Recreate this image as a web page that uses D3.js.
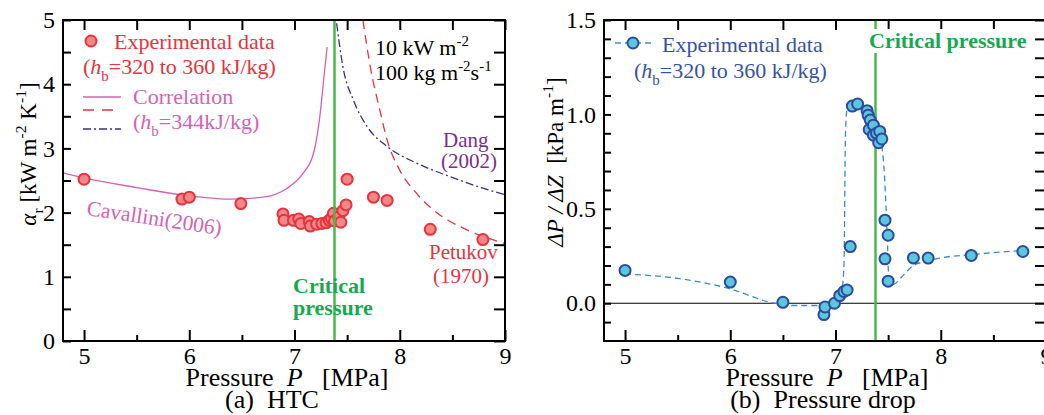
<!DOCTYPE html>
<html>
<head>
<meta charset="utf-8">
<title>HTC and pressure drop</title>
<script src="https://d3js.org/d3.v7.min.js"></script>
<style>
  body { margin: 0; background: #fff; }
</style>
</head>
<body>
<script>
// ---- data ----
// (a) HTC experimental points
const htcP = [5.0, 5.93, 6.0, 6.49, 6.89, 6.90, 6.99, 7.04, 7.06, 7.14, 7.15, 7.21, 7.26, 7.30,
              7.33, 7.35, 7.37, 7.38, 7.42, 7.44, 7.46, 7.49, 7.50, 7.75, 7.88, 8.29, 8.79];
const htcA = [2.52, 2.21, 2.24, 2.14, 1.98, 1.88, 1.88, 1.90, 1.83, 1.86, 1.79, 1.82, 1.83, 1.84,
              1.88, 1.91, 1.99, 1.87, 1.93, 1.85, 2.03, 2.12, 2.52, 2.24, 2.19, 1.74, 1.58];
// correlations
const cavP = [4.8, 5.0, 5.5, 6.0, 6.4, 6.7, 6.93, 7.08, 7.18, 7.24, 7.28, 7.31];
const cavA = [2.62, 2.54, 2.39, 2.26, 2.21, 2.24, 2.38, 2.61, 2.92, 3.49, 4.12, 4.58];
const dangP = [7.40, 7.46, 7.56, 7.69, 7.88, 8.16, 8.48, 8.79, 9.0];
const dangA = [4.95, 4.27, 3.75, 3.34, 3.03, 2.77, 2.56, 2.38, 2.28];
const petP = [7.65, 7.72, 7.81, 7.88, 8.0, 8.16, 8.32, 8.64, 9.0];
const petA = [5.0, 4.27, 3.6, 3.13, 2.66, 2.30, 2.04, 1.73, 1.52];

// (b) pressure drop experimental points
const dpP = [5.0, 6.0, 6.5, 6.89, 6.90, 6.99, 7.04, 7.08, 7.11, 7.14, 7.16, 7.21, 7.30, 7.31,
             7.33, 7.32, 7.36, 7.36, 7.39, 7.42, 7.41, 7.44, 7.47, 7.50, 7.47, 7.50, 7.74, 7.88, 8.29, 8.78];
const dpV = [0.174, 0.112, 0.005, -0.06, -0.02, 0.0, 0.04, 0.062, 0.07, 0.30, 1.044, 1.055, 1.02, 0.996,
             0.97, 0.92, 0.943, 0.89, 0.90, 0.91, 0.85, 0.87, 0.44, 0.36, 0.235, 0.117, 0.24, 0.239, 0.253, 0.274];
// dashed guide curve through the data
const dpLineP = [5.0, 5.52, 6.0, 6.38, 6.57, 6.85, 7.01, 7.06, 7.08, 7.095, 7.11, 7.16, 7.21, 7.30, 7.38,
                 7.43, 7.46, 7.48, 7.495, 7.505, 7.55, 7.63, 7.74, 7.85, 8.0, 8.3, 8.8];
const dpLineV = [0.155, 0.13, 0.076, 0.005, -0.012, -0.012, 0.032, 0.07, 0.2, 0.9, 1.03, 1.055, 1.055, 1.0, 0.93,
                 0.86, 0.72, 0.51, 0.30, 0.14, 0.10, 0.14, 0.20, 0.22, 0.24, 0.258, 0.28];

const critP = 7.38;
const xTicks = [5, 6, 7, 8, 9];
const xMinor = [5.5, 6.5, 7.5, 8.5];
const htcTicks = [0, 1, 2, 3, 4, 5];
const htcMinor = [0.5, 1.5, 2.5, 3.5, 4.5];
const dpTicks = [0.0, 0.5, 1.0, 1.5];
const dpMinor = [-0.1, 0.1, 0.2, 0.3, 0.4, 0.6, 0.7, 0.8, 0.9, 1.1, 1.2, 1.3, 1.4];

const W = 1044, H = 415;
const serif = "'Liberation Serif', 'Times New Roman', serif";
const svg = d3.select("body").append("svg").attr("width", W).attr("height", H);

const red = "#e8323c", magenta = "#d462b4", navy = "#3a2f8f", purple = "#7c2e8e",
      green = "#4cb848", greenText = "#1aa84e", blueText = "#3452a6";
const R = 5.5;

// rich text helper: parts = [{t, i, s:'sub'|'sup'}]
function rich(sel, fs, parts) {
  let cur = 0;
  parts.forEach(p => {
    const off = p.s === "sub" ? fs * 0.3 : p.s === "sup" ? -fs * 0.42 : 0;
    const ts = sel.append("tspan").text(p.t).attr("dy", off - cur);
    cur = off;
    if (p.s) ts.attr("font-size", fs * 0.68);
    if (p.i) ts.style("font-style", "italic");
  });
  return sel;
}

function label(x, y, fs, color, parts, extra) {
  const t = svg.append("text").attr("x", x).attr("y", y).attr("font-size", fs).attr("fill", color);
  if (extra) extra(t);
  return rich(t, fs, parts);
}

// generic panel frame + ticks
function panel(x, y, yMajor, yMinor, yFmt, yTickL, yTickR) {
  const [x0, x1] = x.range(), [y1, y0] = y.range();
  const g = svg.append("g");
  const tickStyle = s => s.selectAll(".domain").remove();
  g.append("g").attr("transform", `translate(0,${y1})`)
    .call(d3.axisBottom(x).tickValues(xTicks).tickSize(-11).tickPadding(6).tickFormat(d3.format("d")))
    .call(tickStyle);
  g.append("g").attr("transform", `translate(0,${y1})`)
    .call(d3.axisBottom(x).tickValues(xMinor).tickSize(-6).tickFormat("")).call(tickStyle);
  g.append("g").attr("transform", `translate(0,${y0})`)
    .call(d3.axisTop(x).tickValues(xTicks.concat(xMinor)).tickSize(-10).tickFormat("")).call(tickStyle);
  g.append("g").attr("transform", `translate(${x0},0)`)
    .call(d3.axisLeft(y).tickValues(yMajor).tickSize(-yTickL).tickPadding(8).tickFormat(yFmt)).call(tickStyle);
  g.append("g").attr("transform", `translate(${x0},0)`)
    .call(d3.axisLeft(y).tickValues(yMinor).tickSize(-yTickL).tickFormat("")).call(tickStyle);
  g.append("g").attr("transform", `translate(${x1},0)`)
    .call(d3.axisRight(y).tickValues(yMajor.concat(yMinor)).tickSize(-yTickR).tickFormat("")).call(tickStyle);
  g.selectAll(".tick line").attr("stroke", "#000").attr("stroke-width", 2);
  g.selectAll(".tick text").attr("font-size", 24).attr("fill", "#000");
  g.append("rect").attr("x", x0).attr("y", y0).attr("width", x1 - x0).attr("height", y1 - y0)
    .attr("fill", "none").attr("stroke", "#000").attr("stroke-width", 2);
  return g;
}

// ================= (a) HTC =================
const xa = d3.scaleLinear().domain([4.8, 9]).range([63, 505]);
const ya = d3.scaleLinear().domain([0, 5]).range([341, 20]);
svg.append("clipPath").attr("id", "clipA").append("rect")
  .attr("x", 63).attr("y", 20).attr("width", 442).attr("height", 321);
const pa = svg.append("g").attr("clip-path", "url(#clipA)");

const lineA = d3.line().curve(d3.curveMonotoneX);
pa.append("path").attr("d", lineA(cavP.map((p, i) => [xa(p), ya(cavA[i])])))
  .attr("fill", "none").attr("stroke", magenta).attr("stroke-width", 1.3);
pa.append("path").attr("d", lineA(dangP.map((p, i) => [xa(p), ya(dangA[i])])))
  .attr("fill", "none").attr("stroke", navy).attr("stroke-width", 1.3).attr("stroke-dasharray", "8,3,2,3");
pa.append("path").attr("d", lineA(petP.map((p, i) => [xa(p), ya(petA[i])])))
  .attr("fill", "none").attr("stroke", red).attr("stroke-width", 1.3).attr("stroke-dasharray", "9,6");

pa.selectAll("circle.htc").data(htcP).join("circle").attr("class", "htc")
  .attr("cx", d => xa(d)).attr("cy", (d, i) => ya(htcA[i])).attr("r", R)
  .attr("fill", "#f2878a").attr("stroke", red).attr("stroke-width", 2);

pa.append("line").attr("x1", xa(critP)).attr("x2", xa(critP)).attr("y1", 20).attr("y2", 341)
  .attr("stroke", green).attr("stroke-width", 2.5);

panel(xa, ya, htcTicks, htcMinor, d3.format("d"), 8, 11);

// legend (a)
svg.append("circle").attr("cx", 91).attr("cy", 41).attr("r", R)
  .attr("fill", "#f2878a").attr("stroke", red).attr("stroke-width", 2);
label(114, 49, 22, red, [{t: "Experimental data"}]);
label(83, 74, 22, red, [{t: "("}, {t: "h", i: 1}, {t: "b", s: "sub"}, {t: "=320 to 360 kJ/kg)"}]);
svg.append("line").attr("x1", 83).attr("x2", 121).attr("y1", 97).attr("y2", 97)
  .attr("stroke", magenta).attr("stroke-width", 1.3);
svg.append("line").attr("x1", 83).attr("x2", 121).attr("y1", 110).attr("y2", 110)
  .attr("stroke", red).attr("stroke-width", 1.3).attr("stroke-dasharray", "11,8");
svg.append("line").attr("x1", 83).attr("x2", 121).attr("y1", 129).attr("y2", 129)
  .attr("stroke", navy).attr("stroke-width", 1.3).attr("stroke-dasharray", "8,3,2,3");
label(133, 104, 22, magenta, [{t: "Correlation"}]);
label(133, 129, 22, magenta, [{t: "("}, {t: "h", i: 1}, {t: "b", s: "sub"}, {t: "=344kJ/kg)"}]);

label(375, 55, 22, "#000", [{t: "10 kW m"}, {t: "-2", s: "sup"}]);
label(375, 80, 22, "#000", [{t: "100 kg m"}, {t: "-2", s: "sup"}, {t: "s"}, {t: "-1", s: "sup"}]);

label(443, 147, 21, purple, [{t: "Dang"}]);
label(441, 168, 21, purple, [{t: "(2002)"}]);
label(429, 259, 21, red, [{t: "Petukov"}]);
label(433, 283, 21, red, [{t: "(1970)"}]);
label(0, 0, 21.5, magenta, [{t: "Cavallini(2006)"}],
  t => t.attr("transform", "translate(86,215) rotate(8.5)"));
label(293, 293, 22, greenText, [{t: "Critical"}], t => t.style("font-weight", "bold"));
label(293, 315, 22, greenText, [{t: "pressure"}], t => t.style("font-weight", "bold"));

// axis titles (a)
label(0, 0, 23, "#000",
  [{t: "α", i: 1}, {t: "r", s: "sub"}, {t: " [kW m"}, {t: "-2", s: "sup"}, {t: " K"}, {t: "-1", s: "sup"}, {t: "]"}],
  t => t.attr("text-anchor", "middle").attr("transform", "translate(36,154) rotate(-90)"));
label(287, 386, 26, "#000", [{t: "Pressure  "}, {t: "P", i: 1}, {t: "   [MPa]"}],
  t => t.attr("text-anchor", "middle"));
label(272, 408, 26, "#000", [{t: "(a)  HTC"}], t => t.attr("text-anchor", "middle"));

// ================= (b) Pressure drop =================
const xb = d3.scaleLinear().domain([4.8, 9]).range([604, 1046]);
const yb = d3.scaleLinear().domain([-0.2, 1.5]).range([341, 20]);
svg.append("clipPath").attr("id", "clipB").append("rect")
  .attr("x", 604).attr("y", 20).attr("width", 442).attr("height", 321);
const pb = svg.append("g").attr("clip-path", "url(#clipB)");

pb.append("line").attr("x1", 604).attr("x2", 1046).attr("y1", yb(0)).attr("y2", yb(0))
  .attr("stroke", "#000").attr("stroke-width", 1.2);
pb.append("path").attr("d", lineA(dpLineP.map((p, i) => [xb(p), yb(dpLineV[i])])))
  .attr("fill", "none").attr("stroke", "#3a8ad2").attr("stroke-width", 1.3).attr("stroke-dasharray", "6,4");
pb.append("line").attr("x1", xb(critP)).attr("x2", xb(critP)).attr("y1", 20).attr("y2", 341)
  .attr("stroke", green).attr("stroke-width", 2.5);
pb.selectAll("circle.dp").data(dpP).join("circle").attr("class", "dp")
  .attr("cx", d => xb(d)).attr("cy", (d, i) => yb(dpV[i])).attr("r", R)
  .attr("fill", "#5cc6dc").attr("stroke", "#2c4b9e").attr("stroke-width", 2);

panel(xb, yb, dpTicks, dpMinor, d3.format(".1f"), 7, 11);

// legend (b)
svg.append("line").attr("x1", 615).attr("x2", 653).attr("y1", 43).attr("y2", 43)
  .attr("stroke", "#3a8ad2").attr("stroke-width", 1.3).attr("stroke-dasharray", "6,4");
svg.append("circle").attr("cx", 633).attr("cy", 43).attr("r", R)
  .attr("fill", "#5cc6dc").attr("stroke", "#2c4b9e").attr("stroke-width", 2);
label(662, 52, 22, blueText, [{t: "Experimental data"}]);
label(634, 78, 22, blueText, [{t: "("}, {t: "h", i: 1}, {t: "b", s: "sub"}, {t: "=320 to 360 kJ/kg)"}]);

svg.append("rect").attr("x", 866).attr("y", 29).attr("width", 162).attr("height", 24).attr("fill", "#fff");
label(869, 48, 22, greenText, [{t: "Critical pressure"}], t => t.style("font-weight", "bold"));

label(0, 0, 23, "#000",
  [{t: "ΔP / ΔZ", i: 1}, {t: "  [kPa m"}, {t: "-1", s: "sup"}, {t: "]"}],
  t => t.attr("text-anchor", "middle").attr("transform", "translate(563,162) rotate(-90)"));
label(827, 386, 26, "#000", [{t: "Pressure  "}, {t: "P", i: 1}, {t: "   [MPa]"}],
  t => t.attr("text-anchor", "middle"));
label(823, 408, 26, "#000", [{t: "(b)  Pressure drop"}], t => t.attr("text-anchor", "middle"));

// fonts: serif everywhere, keep double spaces
svg.selectAll("text").style("font-family", serif).style("white-space", "pre");
</script>
</body>
</html>
